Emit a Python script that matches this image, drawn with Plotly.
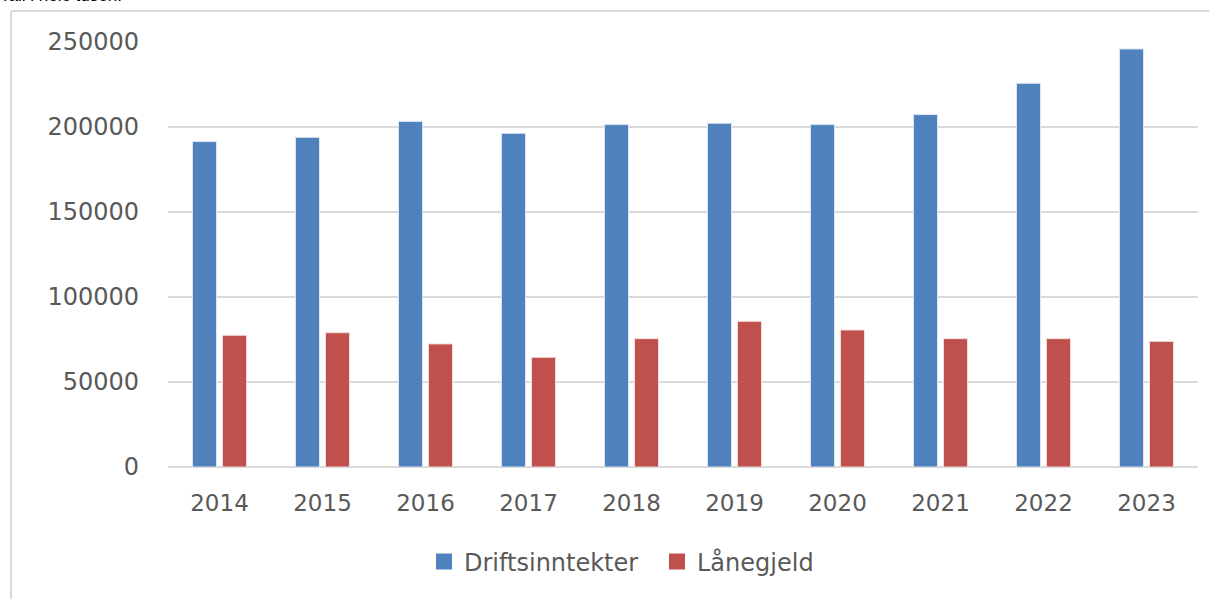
import plotly.graph_objects as go

years = ["2014", "2015", "2016", "2017", "2018", "2019", "2020", "2021", "2022", "2023"]
driftsinntekter = [191400, 193900, 203300, 196300, 201400, 202200, 201400, 207300, 225700, 245900]
lanegjeld = [77500, 79000, 72400, 64500, 75500, 85700, 80600, 75500, 75500, 73900]
ytick_vals = [0, 50000, 100000, 150000, 200000, 250000]
ytick_text = ["0", "50000", "100000", "150000", "200000", "250000"]

font_family = "DejaVu Sans, sans-serif"
txt_color = "#595959"
blue = "#4f81bd"
red = "#c0504d"

fig = go.Figure()
fig.add_trace(go.Bar(name="Driftsinntekter", x=years, y=driftsinntekter, showlegend=False,
                     marker=dict(color=blue, line=dict(color="#dce6f2", width=1))))
fig.add_trace(go.Bar(name="Lånegjeld", x=years, y=lanegjeld, showlegend=False,
                     marker=dict(color=red, line=dict(color="#f2dcdb", width=1))))
# legend entries (square swatches)
fig.add_trace(go.Scatter(name="Driftsinntekter", x=[None], y=[None], mode="markers",
                         marker=dict(symbol="square", size=16, color=blue), hoverinfo="skip"))
fig.add_trace(go.Scatter(name="Lånegjeld", x=[None], y=[None], mode="markers",
                         marker=dict(symbol="square", size=16, color=red), hoverinfo="skip"))

W, H = 1209, 599
L, R, T, B = 168, 11, 42, 132
pw = W - L - R
ph = H - T - B

def px_x(x):
    return (x - L) / pw

def px_y(y):
    return (H - B - y) / ph

fig.update_layout(
    width=W, height=H,
    margin=dict(l=L, r=R, t=T, b=B, pad=0),
    paper_bgcolor="white", plot_bgcolor="white",
    barmode="group", bargap=0.417, bargroupgap=0.2,
    font=dict(family=font_family, size=23, color=txt_color),
    showlegend=True,
    legend=dict(orientation="h", x=px_x(657), xanchor="center", y=px_y(562), yanchor="middle",
                font=dict(size=24, color=txt_color), traceorder="normal",
                itemwidth=30, itemsizing="trace",
                entrywidth=188, entrywidthmode="pixels"),
    xaxis=dict(type="category", showgrid=False, showline=False, ticks="",
               tickfont=dict(size=23, color=txt_color), ticklabelstandoff=20),
    yaxis=dict(range=[0, 250000], tickvals=ytick_vals, ticktext=ytick_text,
               showgrid=True, gridcolor="#d9d9d9", gridwidth=2,
               zeroline=True, zerolinecolor="#d9d9d9", zerolinewidth=2,
               showline=False, ticks="", tickfont=dict(size=24, color=txt_color),
               ticklabelstandoff=28),
    shapes=[
        dict(type="line", xref="paper", yref="paper", x0=px_x(11), x1=px_x(11),
             y0=px_y(11), y1=px_y(605), line=dict(color="#d9d9d9", width=2)),
        dict(type="line", xref="paper", yref="paper", x0=px_x(11), x1=px_x(1215),
             y0=px_y(11), y1=px_y(11), line=dict(color="#d9d9d9", width=2)),
    ],
    annotations=[
        dict(text="Tall i hele tusen.", xref="paper", yref="paper", x=px_x(-2), y=px_y(7),
             xanchor="left", yanchor="bottom", showarrow=False,
             font=dict(family="Liberation Sans, sans-serif", size=17, color="#000000")),
    ],
)

fig.write_html("out.html", config={"displayModeBar": False},
               post_script="document.body.style.margin='0px';")
